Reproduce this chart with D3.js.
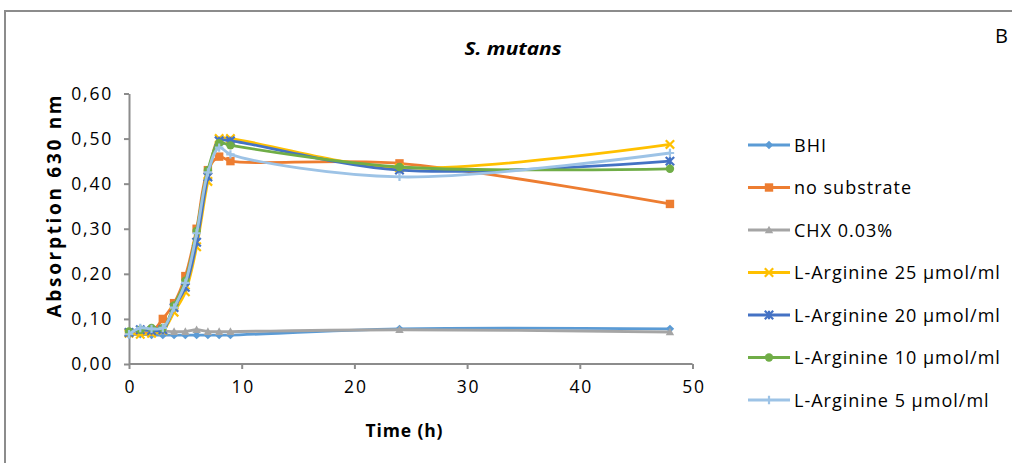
<!DOCTYPE html>
<html><head><meta charset="utf-8">
<script src="https://cdn.jsdelivr.net/npm/d3@7"></script>
<style>
body{margin:0;background:#fff;}
svg{display:block;font-family:"Open Sans",Lato,sans-serif;}
</style></head>
<body>
<svg id="c" width="1012" height="463"></svg>
<script>
const times = [0,1,2,3,4,5,6,7,8,9,24,48];
const seriesNames = ["BHI","no substrate","CHX 0.03%","L-Arginine 25 µmol/ml","L-Arginine 20 µmol/ml","L-Arginine 10 µmol/ml","L-Arginine 5 µmol/ml"];
const bhi      = [0.065,0.066,0.064,0.064,0.064,0.064,0.064,0.064,0.064,0.064,0.078,0.078];
const noSub    = [0.070,0.074,0.072,0.100,0.135,0.195,0.300,0.430,0.460,0.450,0.445,0.355];
const chx      = [0.071,0.075,0.073,0.073,0.072,0.072,0.076,0.072,0.072,0.072,0.076,0.071];
const arg25    = [0.068,0.066,0.068,0.074,0.115,0.160,0.260,0.405,0.500,0.500,0.435,0.487];
const arg20    = [0.070,0.076,0.074,0.076,0.125,0.170,0.270,0.415,0.495,0.495,0.430,0.450];
const arg10    = [0.072,0.076,0.080,0.080,0.130,0.185,0.295,0.430,0.490,0.485,0.437,0.433];
const arg5     = [0.066,0.080,0.078,0.080,0.125,0.180,0.290,0.425,0.480,0.465,0.415,0.468];
const yTicks = [0,0.1,0.2,0.3,0.4,0.5,0.6];
const xTicks = [0,10,20,30,40,50];

const seriesValues = [bhi,noSub,chx,arg25,arg20,arg10,arg5];
const colors = ["#5B9BD5","#ED7D31","#A5A5A5","#FFC000","#4472C4","#70AD47","#9DC3E6"];
const markers = ["diamond","square","triangle","x","star","circle","plus"];

const svg = d3.select("#c");
svg.append("path").attr("d","M5,463 V11 H1012").attr("fill","none").attr("stroke","#8c8c8c").attr("stroke-width",2);

const x = d3.scaleLinear().domain([0,50]).range([129,692.5]);
const y = d3.scaleLinear().domain([0,0.6]).range([364,93.5]);
const fmt = d => d3.format(".2f")(d).replace(".",",");

const gx = svg.append("g").attr("transform","translate(0,364)")
  .call(d3.axisBottom(x).tickValues(xTicks).tickSize(5).tickSizeOuter(0).tickPadding(12));
const gy = svg.append("g").attr("transform","translate(129,0)")
  .call(d3.axisLeft(y).tickValues(yTicks).tickFormat(fmt).tickSize(5).tickSizeOuter(0).tickPadding(11));
[gx,gy].forEach(g=>{
  g.selectAll("path,line").attr("stroke","#8c8c8c").attr("stroke-width",2);
  g.selectAll("text").attr("font-size",17.5).attr("fill","#000").attr("letter-spacing",1.8)
    .attr("font-family","'Open Sans',sans-serif");
});
gx.selectAll("text").attr("dx",1);
gx.select(".domain").attr("d","M129,0H692.5");

svg.append("text").attr("x",513).attr("y",55).attr("text-anchor","middle")
  .attr("font-size",18.5).attr("font-weight","bold").attr("font-style","italic")
  .attr("textLength",97).attr("lengthAdjust","spacingAndGlyphs").text("S. mutans");
svg.append("text").attr("x",995).attr("y",43).attr("font-size",20).text("B");
svg.append("text").attr("transform","translate(61,206.5) rotate(-90)").attr("text-anchor","middle")
  .attr("font-size",19).attr("font-weight","bold")
  .attr("textLength",222).attr("lengthAdjust","spacing").text("Absorption 630 nm");
svg.append("text").attr("x",404).attr("y",437).attr("text-anchor","middle")
  .attr("font-size",17.5).attr("font-weight","bold")
  .attr("textLength",77).attr("lengthAdjust","spacing").text("Time (h)");

function drawMarker(g, type, cx, cy, color){
  const s = 4.2;
  if(type==="diamond") g.append("path").attr("d",`M${cx},${cy-s} L${cx+s},${cy} L${cx},${cy+s} L${cx-s},${cy} Z`).attr("fill",color);
  else if(type==="square") g.append("rect").attr("x",cx-s).attr("y",cy-s).attr("width",2*s).attr("height",2*s).attr("fill",color);
  else if(type==="triangle") g.append("path").attr("d",`M${cx},${cy-s} L${cx+s},${cy+s*0.8} L${cx-s},${cy+s*0.8} Z`).attr("fill",color);
  else if(type==="circle") g.append("circle").attr("cx",cx).attr("cy",cy).attr("r",s).attr("fill",color);
  else if(type==="x") g.append("path").attr("d",`M${cx-s},${cy-s} L${cx+s},${cy+s} M${cx-s},${cy+s} L${cx+s},${cy-s}`).attr("stroke",color).attr("stroke-width",2.2);
  else if(type==="star") g.append("path").attr("d",`M${cx-s},${cy-s} L${cx+s},${cy+s} M${cx-s},${cy+s} L${cx+s},${cy-s} M${cx},${cy-s} V${cy+s}`).attr("stroke",color).attr("stroke-width",2.2);
  else if(type==="plus") g.append("path").attr("d",`M${cx-s},${cy} H${cx+s} M${cx},${cy-s} V${cy+s}`).attr("stroke",color).attr("stroke-width",2.2);
}

const line = d3.line().x(d=>x(d[0])).y(d=>y(d[1])).curve(d3.curveCatmullRom.alpha(0.5));
const plot = svg.append("g");
seriesValues.forEach((vals,i)=>{
  const pts = times.map((t,j)=>[t,vals[j]]);
  const g = plot.append("g");
  g.append("path").datum(pts).attr("d",line).attr("fill","none").attr("stroke",colors[i]).attr("stroke-width",2.8);
  pts.forEach(p=>drawMarker(g, markers[i], x(p[0]), y(p[1]), colors[i]));
});

const legY0 = 145, legDy = 42.5;
seriesNames.forEach((n,i)=>{
  const ly = legY0 + i*legDy;
  const g = svg.append("g");
  g.append("line").attr("x1",748).attr("x2",790).attr("y1",ly).attr("y2",ly).attr("stroke",colors[i]).attr("stroke-width",2.8);
  drawMarker(g, markers[i], 769, ly, colors[i]);
  g.append("text").attr("x",794).attr("y",ly+6.5).attr("font-size",18).attr("letter-spacing",1).text(n);
});
</script>
</body></html>
